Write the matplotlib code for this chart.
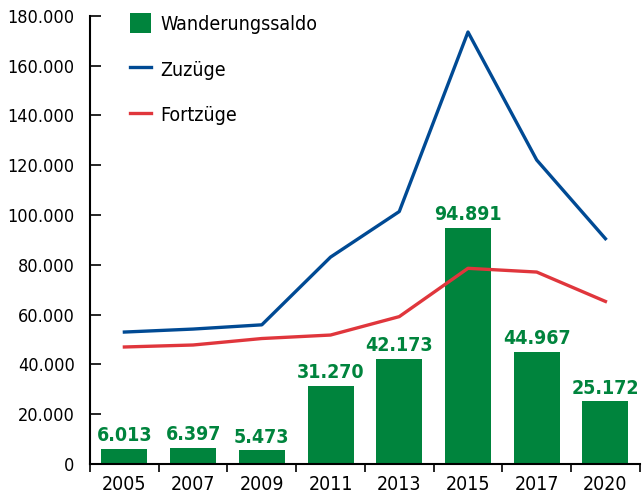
import matplotlib.pyplot as plt
import numpy as np

jahre = ['2005', '2007', '2009', '2011', '2013', '2015', '2017', '2020']
saldo = [6013, 6397, 5473, 31270, 42173, 94891, 44967, 25172]
zuzuege = [53000, 54200, 55900, 83100, 101400, 173500, 122100, 90500]
fortzuege = [47000, 47800, 50400, 51800, 59200, 78600, 77100, 65300]

gruen = '#00843d'
blau = '#004a94'
rot = '#e0363c'

plt.rcParams['font.family'] = ['DejaVu Sans']
plt.rcParams['font.stretch'] = 'condensed'

fig = plt.figure(figsize=(6.43, 4.95), dpi=100)
ax = fig.add_axes([0.14, 0.0626, 0.855, 0.9054])

x = np.arange(len(jahre))
b = ax.bar(x, saldo, width=0.67, color=gruen, label='Wanderungssaldo', zorder=2)
l1, = ax.plot(x, zuzuege, color=blau, lw=2.4, label='Zuzüge', zorder=3)
l2, = ax.plot(x, fortzuege, color=rot, lw=2.4, label='Fortzüge', zorder=3)

for xi, v in zip(x, saldo):
    txt = '{:,}'.format(v).replace(',', '.')
    ax.text(xi, v + 1500, txt, ha='center', va='bottom', color=gruen,
            fontsize=14, fontweight='bold')

ax.set_xlim(-0.5, len(jahre) - 0.5)
ax.set_ylim(0, 180000)
ax.set_yticks(np.arange(0, 180001, 20000))
ax.set_yticklabels(['0' if t == 0 else '{:,}'.format(t).replace(',', '.')
                    for t in range(0, 180001, 20000)])
ax.tick_params(axis='y', direction='in', length=8, width=1.2, labelsize=13, pad=11)

ax.set_xticks(x)
ax.set_xticklabels(jahre)
ax.tick_params(axis='x', length=0, labelsize=14, pad=8)
ax.set_xticks(np.arange(-0.5, len(jahre)), minor=True)
ax.tick_params(axis='x', which='minor', direction='out', length=6, width=1.2)

for s in ['top', 'right']:
    ax.spines[s].set_visible(False)
ax.spines['left'].set_linewidth(1.5)
ax.spines['bottom'].set_linewidth(1.5)

ax.legend([b, l1, l2], ['Wanderungssaldo', 'Zuzüge', 'Fortzüge'],
          loc='upper left', bbox_to_anchor=(0.04, 1.045), frameon=False,
          fontsize=14, labelspacing=1.3, handlelength=1.1, handleheight=1.2,
          handletextpad=0.5)

plt.savefig('out.png', dpi=100)
